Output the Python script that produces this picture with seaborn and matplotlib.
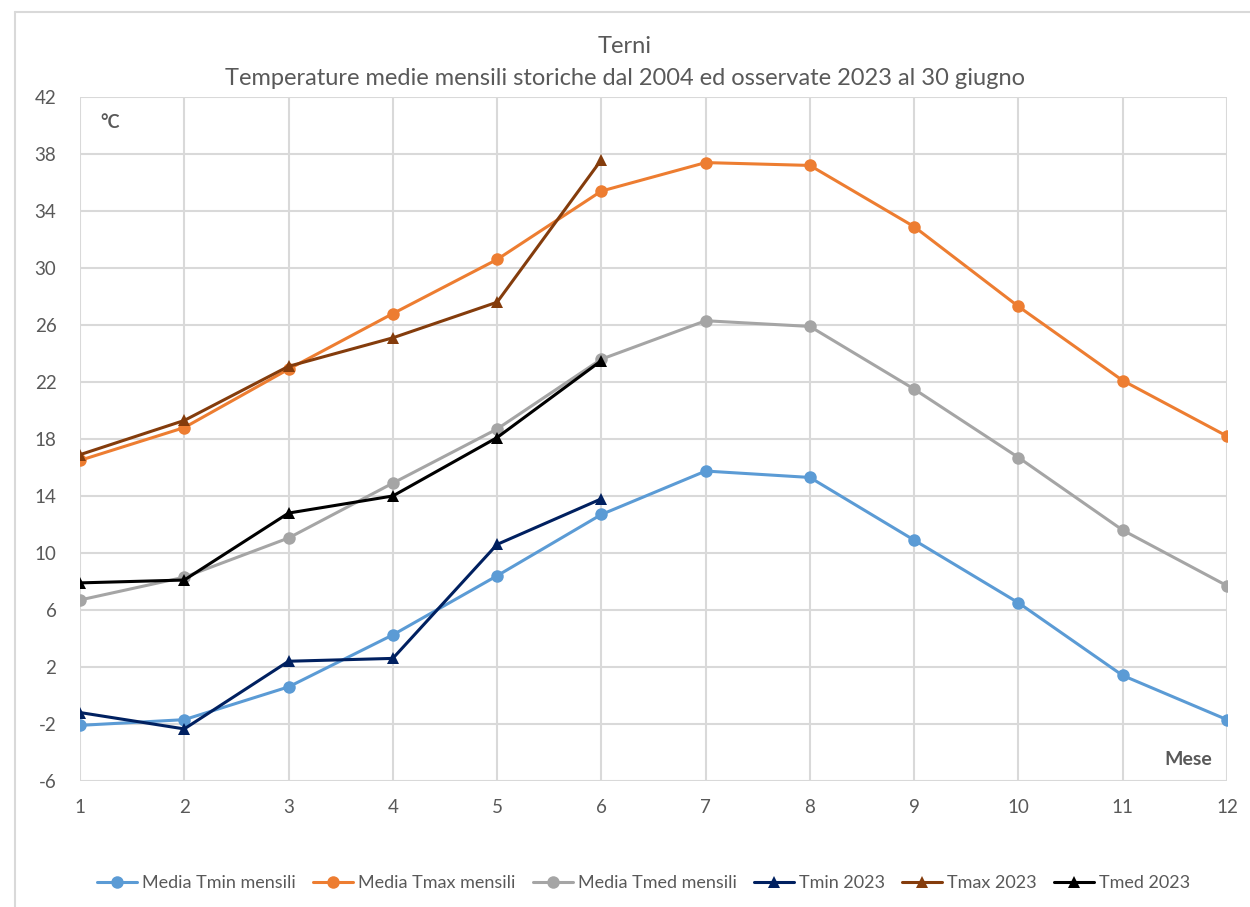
import pandas as pd
import numpy as np
import seaborn as sns
import matplotlib.pyplot as plt
from matplotlib.lines import Line2D

mesi = list(range(1, 13))
mesi_2023 = list(range(1, 7))

media_tmin = [-2.1, -1.7, 0.6, 4.25, 8.4, 12.7, 15.75, 15.3, 10.9, 6.5, 1.4, -1.7]
media_tmax = [16.5, 18.8, 22.9, 26.8, 30.6, 35.4, 37.4, 37.2, 32.9, 27.3, 22.1, 18.2]
media_tmed = [6.7, 8.3, 11.05, 14.9, 18.7, 23.6, 26.3, 25.9, 21.5, 16.7, 11.6, 7.7]

tmin_2023 = [-1.2, -2.35, 2.4, 2.6, 10.6, 13.8]
tmax_2023 = [16.9, 19.3, 23.1, 25.1, 27.6, 37.6]
tmed_2023 = [7.9, 8.1, 12.8, 14.0, 18.1, 23.5]

series = [
    ('Media Tmin mensili', mesi, media_tmin, '#5B9BD5', 'o'),
    ('Media Tmax mensili', mesi, media_tmax, '#ED7D31', 'o'),
    ('Media Tmed mensili', mesi, media_tmed, '#A5A5A5', 'o'),
    ('Tmin 2023', mesi_2023, tmin_2023, '#002060', '^'),
    ('Tmax 2023', mesi_2023, tmax_2023, '#843C0C', '^'),
    ('Tmed 2023', mesi_2023, tmed_2023, '#000000', '^'),
]

sns.set_style('white')
plt.rcParams['font.family'] = ['Lato', 'DejaVu Sans']
plt.rcParams['axes.unicode_minus'] = False

fig = plt.figure(figsize=(12.5, 9.07), dpi=100)
ax = fig.add_axes([0.064, 0.139, 0.9176, 0.754])

handles = []
for name, x, y, col, mk in series:
    df = pd.DataFrame({'Mese': x, 'T': y})
    sns.lineplot(data=df, x='Mese', y='T', ax=ax, color=col, marker=mk,
                 markersize=9, markeredgewidth=0, linewidth=2.2, zorder=3)
    handles.append(Line2D([0], [0], color=col, marker=mk, markersize=9,
                          markeredgewidth=0, linewidth=2.2, label=name))

ax.set_xlim(1, 12)
ax.set_ylim(-6, 42)
ax.set_xticks(mesi)
ax.set_yticks(np.arange(-6, 43, 4))
ax.grid(True, color='#D9D9D9', linewidth=1.5)
ax.set_axisbelow(True)
for s in ax.spines.values():
    s.set_visible(False)
ax.tick_params(axis='both', colors='#595959', labelsize=13.5, length=0)
ax.tick_params(axis='x', pad=13)
ax.tick_params(axis='y', pad=17)
ax.set_xlabel('')
ax.set_ylabel('')

ax.text(0.018, 0.975, '°C', transform=ax.transAxes, fontsize=13, fontweight='bold',
        color='#595959', va='top', ha='left')
ax.text(0.987, 0.031, 'Mese', transform=ax.transAxes, fontsize=14, fontweight='bold',
        color='#595959', va='center', ha='right')

fig.text(0.5, 0.949, 'Terni', ha='center', va='center', fontsize=17, color='#595959')
fig.text(0.5, 0.914, 'Temperature medie mensili storiche dal 2004 ed osservate 2023 al 30 giugno',
         ha='center', va='center', fontsize=17, color='#595959')

fig.legend(handles=handles, loc='center', bbox_to_anchor=(0.515, 0.026), ncol=6,
           frameon=False, fontsize=13, handlelength=2.2, handletextpad=0.3,
           columnspacing=0.95, labelcolor='#595959')

# chart area border (top and left edges visible)
fig.add_artist(Line2D([0.012, 1.0], [0.987, 0.987], color='#D9D9D9', linewidth=1.5,
                      transform=fig.transFigure))
fig.add_artist(Line2D([0.012, 0.012], [0.0, 0.987], color='#D9D9D9', linewidth=1.5,
                      transform=fig.transFigure))

fig.savefig('out.png', dpi=100, facecolor='white')
